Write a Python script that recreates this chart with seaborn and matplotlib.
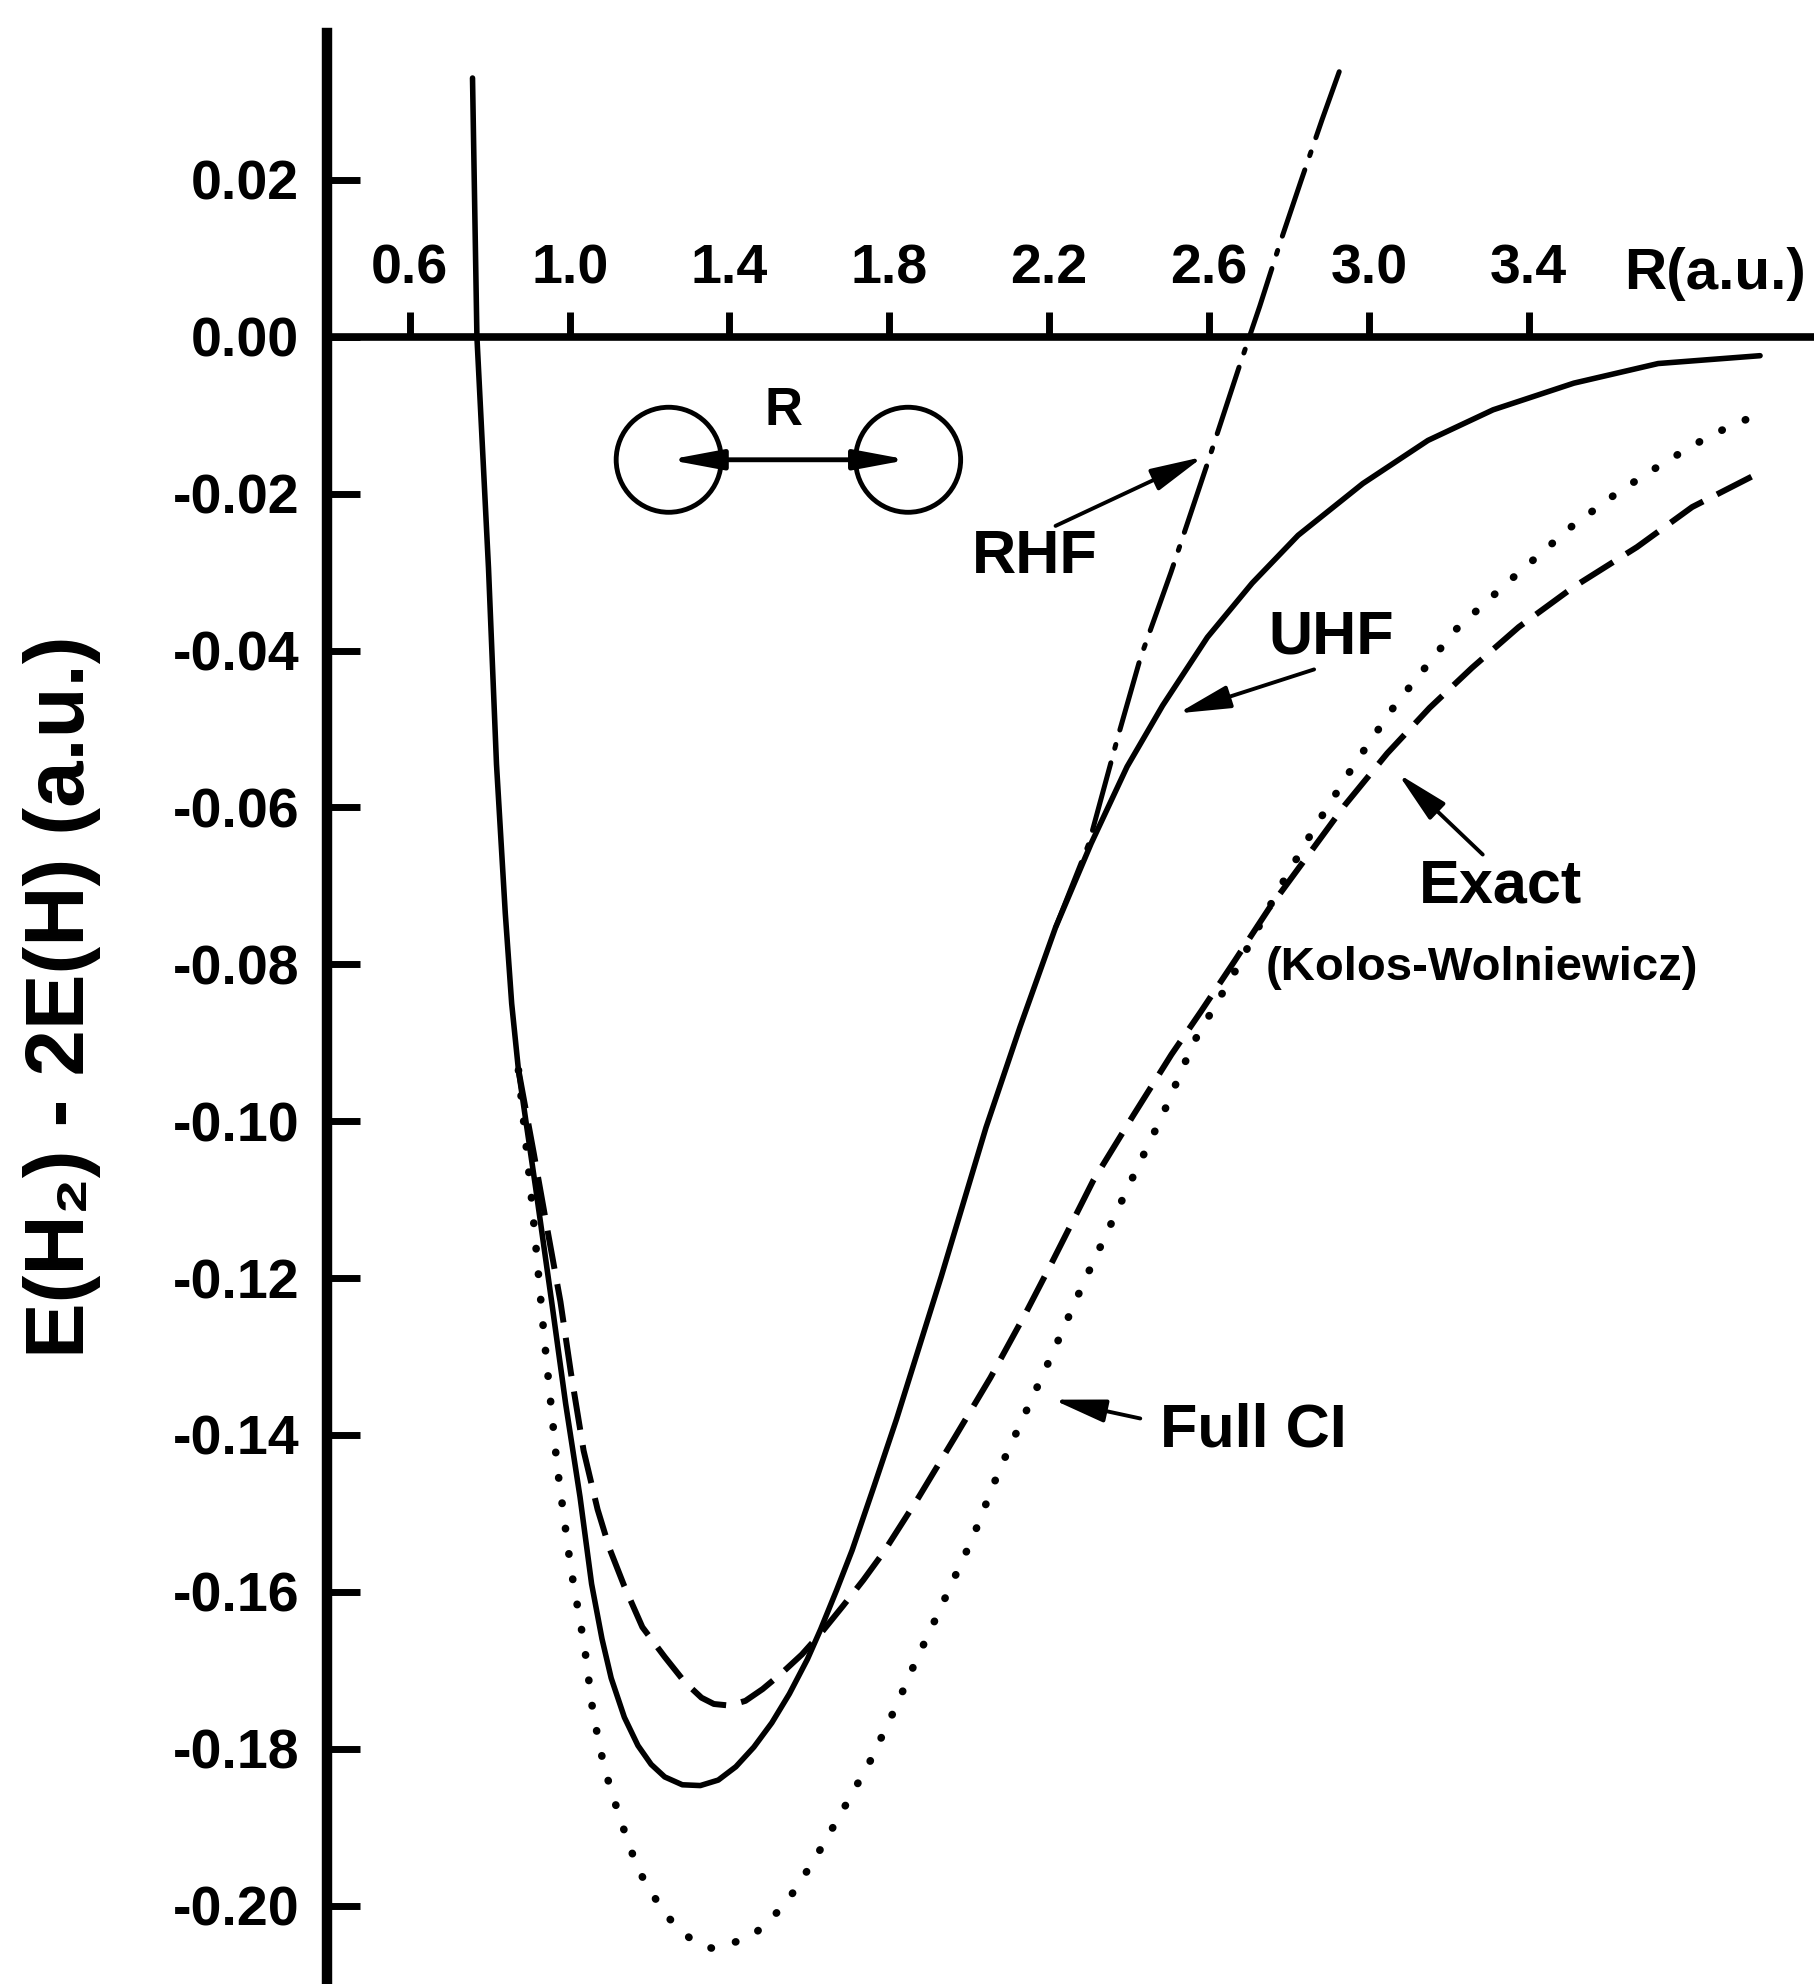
import matplotlib
matplotlib.use("Agg")
import matplotlib.pyplot as plt
import seaborn as sns
from matplotlib.patches import Ellipse

# bond length R (a.u.) and E(H2) - 2E(H) (a.u.)
uhf_r = [0.757, 0.768, 0.797, 0.817, 0.839, 0.855, 0.872, 0.915, 0.955, 0.990,
         1.026, 1.055, 1.081, 1.104, 1.137, 1.171, 1.204, 1.238, 1.282, 1.327,
         1.372, 1.416, 1.461, 1.506, 1.550, 1.595, 1.628, 1.668, 1.707, 1.762,
         1.818, 1.930, 2.042, 2.127, 2.216, 2.305, 2.395, 2.484, 2.596, 2.708,
         2.823, 2.985, 3.148, 3.311, 3.513, 3.724, 3.979]
uhf_e = [0.0330, 0.0000, -0.0295, -0.0545, -0.0735, -0.0850, -0.0935, -0.1085, -0.1230, -0.1360,
         -0.1479, -0.1590, -0.1660, -0.1710, -0.1760, -0.1796, -0.1820, -0.1836, -0.1846, -0.1847,
         -0.1840, -0.1823, -0.1798, -0.1767, -0.1730, -0.1686, -0.1648, -0.1598, -0.1547, -0.1465,
         -0.1380, -0.1198, -0.1008, -0.0880, -0.0753, -0.0646, -0.0548, -0.0470, -0.0383, -0.0314,
         -0.0253, -0.0187, -0.0132, -0.0093, -0.0059, -0.0034, -0.0024]

rhf_r = [2.216, 2.300, 2.372, 2.428, 2.505, 2.597, 2.675, 2.727, 2.778, 2.831, 2.883, 2.935]
rhf_e = [-0.0753, -0.0645, -0.0510, -0.0410, -0.0300, -0.0160, -0.0039, 0.0039, 0.0120, 0.0200,
         0.0277, 0.0351]

exact_r = [0.872, 0.910, 0.945, 0.977, 1.003, 1.035, 1.070, 1.100, 1.137, 1.182,
           1.238, 1.288, 1.330, 1.361, 1.400, 1.440, 1.483, 1.530, 1.581, 1.630,
           1.684, 1.735, 1.785, 1.874, 1.964, 2.053, 2.142, 2.209, 2.310, 2.410,
           2.506, 2.580, 2.665, 2.750, 2.845, 2.940, 3.046, 3.152, 3.258, 3.375,
           3.512, 3.671, 3.809, 3.978]
exact_e = [-0.0935, -0.1040, -0.1140, -0.1230, -0.1320, -0.1420, -0.1495, -0.1545, -0.1593, -0.1645,
           -0.1683, -0.1715, -0.1735, -0.1743, -0.1745, -0.1739, -0.1724, -0.1704, -0.1680, -0.1652,
           -0.1618, -0.1585, -0.1550, -0.1479, -0.1403, -0.1327, -0.1244, -0.1178, -0.1076, -0.0993,
           -0.0915, -0.0860, -0.0795, -0.0729, -0.0663, -0.0597, -0.0531, -0.0473, -0.0422, -0.0370,
           -0.0319, -0.0268, -0.0217, -0.0173]

fullci_r = [0.872, 0.905, 0.936, 0.969, 1.003, 1.037, 1.059, 1.087, 1.126, 1.171,
            1.238, 1.316, 1.361, 1.455, 1.539, 1.612, 1.684, 1.751, 1.818, 1.863,
            1.919, 1.953, 2.008, 2.075, 2.153, 2.204, 2.287, 2.406, 2.484, 2.562,
            2.663, 2.775, 2.864, 2.965, 3.065, 3.216, 3.354, 3.507, 3.624, 3.740,
            3.857, 3.968]
fullci_e = [-0.0935, -0.1100, -0.1274, -0.1441, -0.1570, -0.1669, -0.1756, -0.1825, -0.1889, -0.1954,
            -0.2011, -0.2049, -0.2055, -0.2040, -0.1999, -0.1942, -0.1878, -0.1817, -0.1745, -0.1692,
            -0.1631, -0.1593, -0.1532, -0.1445, -0.1358, -0.1301, -0.1205, -0.1075, -0.0992, -0.0899,
            -0.0811, -0.0704, -0.0626, -0.0544, -0.0470, -0.0374, -0.0310, -0.0242, -0.0198, -0.0160,
            -0.0125, -0.0100]

x_ticks = [0.6, 1.0, 1.4, 1.8, 2.2, 2.6, 3.0, 3.4]
x_tick_labels = ["0.6", "1.0", "1.4", "1.8", "2.2", "2.6", "3.0", "3.4"]
y_ticks = [0.02, 0.00, -0.02, -0.04, -0.06, -0.08, -0.10, -0.12, -0.14, -0.16, -0.18, -0.20]
y_tick_labels = ["0.02", "0.00", "-0.02", "-0.04", "-0.06", "-0.08", "-0.10", "-0.12",
                 "-0.14", "-0.16", "-0.18", "-0.20"]

sns.set_theme(style="ticks")
plt.rcParams["font.family"] = ["Liberation Sans", "DejaVu Sans"]
plt.rcParams["font.weight"] = "bold"
plt.rcParams["text.color"] = "black"
plt.rcParams["xtick.color"] = "black"
plt.rcParams["ytick.color"] = "black"
plt.rcParams["axes.edgecolor"] = "black"

fig = plt.figure(figsize=(18.14, 19.84), dpi=100)
fig.patch.set_facecolor("white")
ax = fig.add_axes([0.1803, 0.0, 0.8197, 0.9836])
ax.set_facecolor("white")

sns.lineplot(x=uhf_r, y=uhf_e, ax=ax, color="black", lw=4, sort=False, estimator=None)
sns.lineplot(x=rhf_r, y=rhf_e, ax=ax, color="black", lw=3.6, sort=False, estimator=None,
             linestyle=(0, (14, 3, 0.8, 3)), dash_capstyle="round")
sns.lineplot(x=exact_r, y=exact_e, ax=ax, color="black", lw=4.3, sort=False, estimator=None,
             linestyle=(0, (6.5, 2.6)))
sns.lineplot(x=fullci_r, y=fullci_e, ax=ax, color="black", lw=5.5, sort=False, estimator=None,
             linestyle=(0, (0.05, 3.3)), dash_capstyle="round")

ax.set_xlim(0.393, 4.114)
ax.set_ylim(-0.2100, 0.0388)

# axes: left spine plus a horizontal axis through E = 0 with labels above it
ax.spines["right"].set_visible(False)
ax.spines["bottom"].set_visible(False)
ax.spines["top"].set_position(("data", 0))
ax.spines["top"].set_linewidth(5.5)
ax.spines["left"].set_linewidth(7.5)
for s in ax.spines.values():
    s.set_color("black")
ax.xaxis.tick_top()
ax.set_xticks(x_ticks, x_tick_labels)
ax.set_yticks(y_ticks, y_tick_labels)
ax.tick_params(axis="x", direction="out", length=18, width=5, pad=12, labelsize=40,
               colors="black", top=True, bottom=False)
ax.tick_params(axis="y", direction="in", length=24, width=5, pad=20, labelsize=40,
               colors="black", left=True, right=False)
ax.grid(False)

fig.text(62 / 1814, 1 - 997 / 1984, "E(H\u2082) - 2E(H) (a.u.)", rotation=90,
         ha="center", va="center", fontsize=60, fontweight="bold", color="black")

ax.text(3.866, 0.0080, "R(a.u.)", ha="center", va="center", fontsize=42, fontweight="bold")

# molecule sketch
for cx in [1.248, 1.847]:
    ax.add_patch(Ellipse((cx, -0.01567), 0.263, 0.01339, fill=False, lw=3.5, ec="black"))
ax.annotate("", xy=(1.847, -0.01567), xytext=(1.248, -0.01567),
            arrowprops=dict(arrowstyle="<|-|>,head_length=1.6,head_width=0.3",
                            mutation_scale=20, lw=3.5, color="black", shrinkA=0, shrinkB=0))
ax.text(1.535, -0.0094, "R", ha="center", va="center", fontsize=38, fontweight="bold")

# curve labels
arrow_kw = dict(arrowstyle="-|>,head_length=1.6,head_width=0.35", mutation_scale=20,
                lw=2.8, color="black", shrinkA=0, shrinkB=0)
ax.text(2.165, -0.0281, "RHF", ha="center", va="center", fontsize=44, fontweight="bold")
ax.annotate("", xy=(2.585, -0.0153), xytext=(2.216, -0.0241), arrowprops=arrow_kw)

ax.text(2.905, -0.0384, "UHF", ha="center", va="center", fontsize=44, fontweight="bold")
ax.annotate("", xy=(2.522, -0.0480), xytext=(2.863, -0.0424), arrowprops=arrow_kw)

ax.text(3.329, -0.0702, "Exact", ha="center", va="center", fontsize=44, fontweight="bold")
ax.text(3.283, -0.0805, "(Kolos-Wolniewicz)", ha="center", va="center", fontsize=34,
        fontweight="bold")
ax.annotate("", xy=(3.073, -0.0557), xytext=(3.285, -0.0660), arrowprops=arrow_kw)

ax.text(2.710, -0.1395, "Full CI", ha="center", va="center", fontsize=44, fontweight="bold")
ax.annotate("", xy=(2.210, -0.1355), xytext=(2.428, -0.1379), arrowprops=arrow_kw)

fig.savefig("out.png", dpi=100, facecolor="white")
